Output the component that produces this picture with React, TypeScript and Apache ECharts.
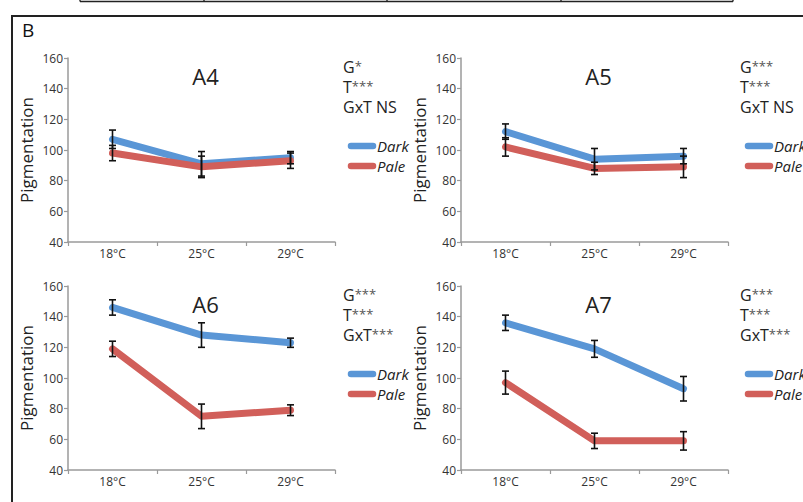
import React, { useEffect, useRef } from "react";
import * as echarts from "echarts";

const categories = ["18°C", "25°C", "29°C"];
const yTicks = { min: 40, max: 160, interval: 20 };

const a4Dark = [107, 91, 95];
const a4DarkErr = [6, 8, 4];
const a4Pale = [98, 89, 93];
const a4PaleErr = [5, 7, 5];

const a5Dark = [112, 94, 96];
const a5DarkErr = [5, 7, 5];
const a5Pale = [102, 88, 89];
const a5PaleErr = [6, 4, 7];

const a6Dark = [146, 128, 123];
const a6DarkErr = [5, 8, 3];
const a6Pale = [119, 75, 79];
const a6PaleErr = [5, 8, 3.5];

const a7Dark = [136, 119, 93];
const a7DarkErr = [5, 5.5, 8];
const a7Pale = [97, 59, 59];
const a7PaleErr = [7.5, 5, 6];

const panelTitles = ["A4", "A5", "A6", "A7"];
const panelStats = [
  ["G*", "T***", "GxT NS"],
  ["G***", "T***", "GxT NS"],
  ["G***", "T***", "GxT***"],
  ["G***", "T***", "GxT***"],
];
const seriesNames = ["Dark", "Pale"];

const BLUE = "#5a96d6";
const RED = "#d15f5a";
const FONT = "'Open Sans', 'Noto Sans', sans-serif";

export default function App() {
  const ref = useRef<HTMLDivElement>(null);

  useEffect(() => {
    if (!ref.current) return;
    const chart = echarts.init(ref.current, undefined, { renderer: "svg" });

    const panels = [
      { dark: a4Dark, darkErr: a4DarkErr, pale: a4Pale, paleErr: a4PaleErr },
      { dark: a5Dark, darkErr: a5DarkErr, pale: a5Pale, paleErr: a5PaleErr },
      { dark: a6Dark, darkErr: a6DarkErr, pale: a6Pale, paleErr: a6PaleErr },
      { dark: a7Dark, darkErr: a7DarkErr, pale: a7Pale, paleErr: a7PaleErr },
    ];
    const layout = [
      { left: 68, top: 58 },
      { left: 461, top: 58 },
      { left: 68, top: 286 },
      { left: 461, top: 286 },
    ];
    const gw = 267;
    const gh = 184;

    const grids = layout.map((l) => ({ left: l.left, top: l.top, width: gw, height: gh }));
    const xAxes = layout.map((_, i) => ({
      type: "category",
      gridIndex: i,
      data: categories,
      boundaryGap: true,
      axisLine: { lineStyle: { color: "#9a9a9a", width: 1.5 } },
      axisTick: { show: true, length: 4, lineStyle: { color: "#9a9a9a", width: 1.2 } },
      axisLabel: { color: "#333", fontSize: 12, fontFamily: FONT, margin: 5 },
      splitLine: { show: false },
    }));
    const yAxes = layout.map((_, i) => ({
      type: "value",
      gridIndex: i,
      min: yTicks.min,
      max: yTicks.max,
      interval: yTicks.interval,
      name: "Pigmentation",
      nameLocation: "middle",
      nameRotate: 90,
      nameGap: 33,
      nameTextStyle: { color: "#222", fontSize: 17, fontFamily: FONT },
      axisLine: { show: true, lineStyle: { color: "#9a9a9a", width: 1.5 } },
      axisTick: { show: true, length: 4, lineStyle: { color: "#9a9a9a", width: 1.2 } },
      axisLabel: { color: "#333", fontSize: 12, fontFamily: FONT, margin: 5 },
      splitLine: { show: false },
    }));

    const errRender = (params: any, api: any) => {
      const x = api.value(0);
      const lo = api.value(1);
      const hi = api.value(2);
      const p1 = api.coord([x, lo]);
      const p2 = api.coord([x, hi]);
      const w = 3.5;
      const st = { stroke: "#111", lineWidth: 1.6 };
      return {
        type: "group",
        children: [
          { type: "line", shape: { x1: p1[0], y1: p1[1], x2: p2[0], y2: p2[1] }, style: st },
          { type: "line", shape: { x1: p1[0] - w, y1: p1[1], x2: p1[0] + w, y2: p1[1] }, style: st },
          { type: "line", shape: { x1: p2[0] - w, y1: p2[1], x2: p2[0] + w, y2: p2[1] }, style: st },
        ],
      };
    };

    const series: any[] = [];
    panels.forEach((p, i) => {
      const defs = [
        { name: seriesNames[0], vals: p.dark, errs: p.darkErr, color: BLUE },
        { name: seriesNames[1], vals: p.pale, errs: p.paleErr, color: RED },
      ];
      defs.forEach((d) => {
        series.push({
          type: "line",
          name: d.name,
          xAxisIndex: i,
          yAxisIndex: i,
          data: d.vals,
          symbol: "none",
          lineStyle: { color: d.color, width: 7, join: "round", cap: "round" },
          itemStyle: { color: d.color },
          z: 2,
        });
      });
      defs.forEach((d) => {
        series.push({
          type: "custom",
          name: d.name + " error",
          xAxisIndex: i,
          yAxisIndex: i,
          renderItem: errRender,
          data: d.vals.map((v, k) => [k, v - d.errs[k], v + d.errs[k]]),
          encode: { x: 0, y: [1, 2] },
          z: 5,
        });
      });
    });

    const titles = layout.map((l, i) => ({
      text: panelTitles[i],
      left: l.left + gw / 2 - 1,
      top: l.top + 2,
      textAlign: "center",
      textStyle: { fontSize: 22, fontWeight: "normal", color: "#222", fontFamily: FONT },
    }));

    const graphics: any[] = [];
    graphics.push({
      type: "rect",
      shape: { x: 12, y: 16, width: 900, height: 600 },
      style: { fill: "none", stroke: "#222", lineWidth: 2 },
      silent: true,
    });
    graphics.push({
      type: "line",
      shape: { x1: 80, y1: 1.5, x2: 733, y2: 1.5 },
      style: { stroke: "#222", lineWidth: 1.6 },
    });
    [80, 204, 387, 561, 733].forEach((x) => {
      graphics.push({
        type: "line",
        shape: { x1: x, y1: -4, x2: x, y2: 1.5 },
        style: { stroke: "#222", lineWidth: 1.4 },
      });
    });
    graphics.push({
      type: "text",
      x: 22,
      y: 20,
      style: { text: "B", fontSize: 19, fill: "#111", fontFamily: FONT },
    });

    const statX = [343, 740, 343, 740];
    layout.forEach((l, i) => {
      const baseY = l.top + 1;
      panelStats[i].forEach((s, k) => {
        const m = s.match(/^([^*]*)(\**)$/);
        const main = m ? m[1] : s;
        const stars = m ? m[2] : "";
        graphics.push({
          type: "text",
          x: statX[i],
          y: baseY + k * 20,
          style: {
            text: "{a|" + main + "}" + (stars ? "{b|" + stars + "}" : ""),
            rich: {
              a: { fontSize: 16, fill: "#222", fontFamily: FONT, verticalAlign: "top", lineHeight: 18 },
              b: { fontSize: 13, fill: "#555", fontFamily: FONT, verticalAlign: "top", lineHeight: 18 },
            },
            fontSize: 16,
            fontFamily: FONT,
          },
        });
      });
      const lx = statX[i] + 8;
      const legendYs = [l.top + 88, l.top + 108];
      [BLUE, RED].forEach((c, k) => {
        graphics.push({
          type: "line",
          shape: { x1: lx, y1: legendYs[k], x2: lx + 22, y2: legendYs[k] },
          style: { stroke: c, lineWidth: 6.5, lineCap: "round" },
        });
        graphics.push({
          type: "text",
          x: lx + 26,
          y: legendYs[k],
          style: {
            text: seriesNames[k],
            fontSize: 15,
            fontStyle: "italic",
            fill: "#222",
            fontFamily: FONT,
            verticalAlign: "middle",
            lineHeight: 16,
          },
        });
      });
    });

    chart.setOption({
      animation: false,
      backgroundColor: "#ffffff",
      title: titles,
      grid: grids,
      xAxis: xAxes,
      yAxis: yAxes,
      series,
      graphic: graphics,
    });

    return () => chart.dispose();
  }, []);

  return (
    <div
      ref={ref}
      style={{ position: "absolute", left: 0, top: 0, width: 803, height: 502 }}
    />
  );
}
